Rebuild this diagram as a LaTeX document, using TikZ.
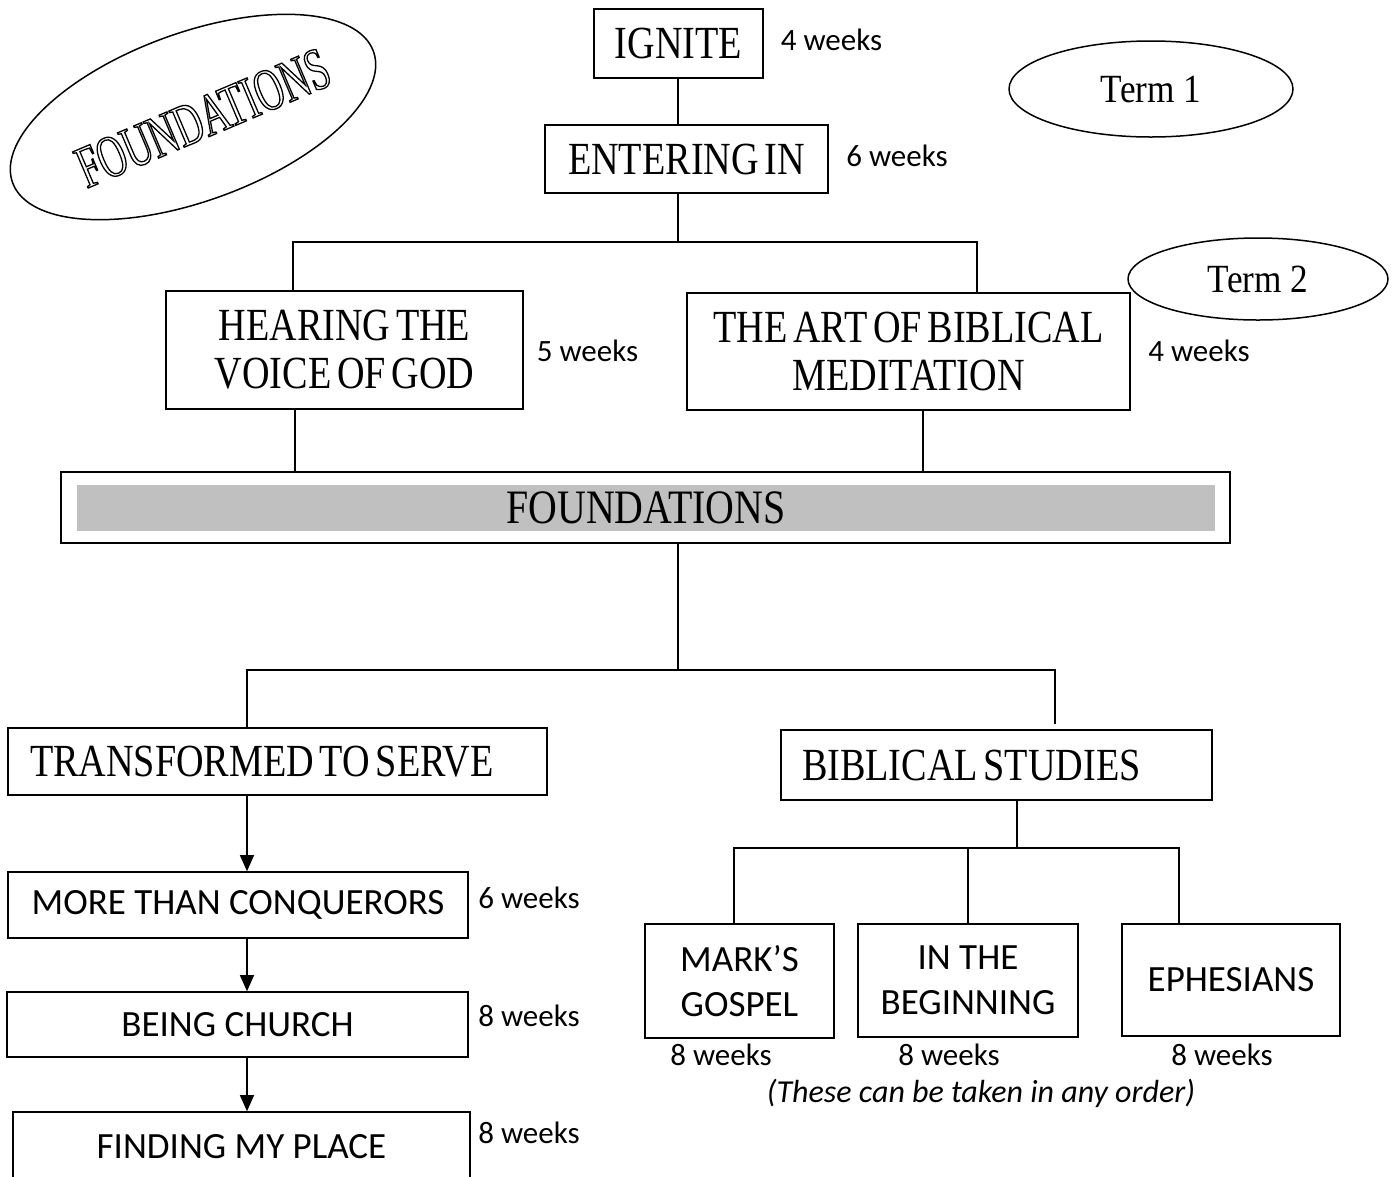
\documentclass[tikz,border=0pt]{standalone}
\usepackage{fontspec}
\setmainfont{Carlito}
\newfontfamily\tfont{Liberation Serif}[FakeStretch=0.83,WordSpace=0.6]
\newfontfamily\ovfont{Liberation Serif}[FakeStretch=0.64,WordSpace=0.5]
\newfontfamily\termfont{Liberation Serif}[FakeStretch=0.88]
\usetikzlibrary{shapes.geometric,arrows.meta}
\definecolor{barfill}{HTML}{C0C0C0}
\newcommand{\outlinetext}[1]{\special{pdf:literal direct 1 Tr 1.3 w}#1\special{pdf:literal direct 0 Tr}}
\tikzset{
  x=1pt,y=-1pt,
  box/.style={draw, line width=1.6pt, rectangle, inner sep=0pt, align=center},
  wk/.style={font=\fontsize{31}{34}\selectfont, inner sep=0pt},
  ttl/.style={font=\tfont\fontsize{46}{48}\selectfont},
  bdy/.style={font=\fontsize{37}{45}\selectfont},
  conn/.style={line width=1.4pt},
  arr/.style={line width=1.4pt, -{Triangle[length=16pt,width=14pt]}},
  oval/.style={draw, ellipse, line width=1.5pt, inner sep=0pt}
}
\begin{document}
\begin{tikzpicture}
\useasboundingbox (0,0) rectangle (1398,1176);
% ovals
\node[oval, rotate=20, minimum width=384, minimum height=168] (fov) at (193,117) {};
\node[rotate=23, inner sep=0pt, font=\ovfont\fontsize{60}{60}\selectfont] (fovtxt) at (203,118) {\outlinetext{FOUNDATIONS}};
\node[oval, minimum width=284, minimum height=96,
      font=\termfont\fontsize{40}{40}\selectfont] (t1) at (1151,89) {Term 1};
\node[oval, minimum width=260, minimum height=82,
      font=\termfont\fontsize{40}{40}\selectfont] (t2) at (1258,279) {Term 2};
% top boxes
\node[box, ttl, minimum width=169, minimum height=69] (ignite) at (678.5,43.5) {IGNITE};
\node[box, ttl, minimum width=283, minimum height=68] (enter) at (686.5,159) {ENTERING IN};
\node[box, ttl, minimum width=357, minimum height=118] (hear) at (344.5,350) {HEARING THE\\VOICE OF GOD};
\node[box, ttl, minimum width=443, minimum height=117] (art) at (908.5,351.5) {THE ART OF BIBLICAL\\MEDITATION};
% foundations bar
\node[box, minimum width=1169, minimum height=71] (found) at (645.5,507.5) {};
\node[fill=barfill, inner sep=0pt, minimum width=1138, minimum height=46, font=\tfont\fontsize{48}{48}\selectfont] (foundin) at (646,508) {FOUNDATIONS};
% lower left
\node[box, ttl, minimum width=539, minimum height=67] (trans) at (277.5,761.5) {\makebox[495pt][l]{TRANSFORMED TO SERVE}};
\node[box, bdy, minimum width=460, minimum height=66] (more) at (238,905) {MORE THAN CONQUERORS};
\node[box, bdy, minimum width=461, minimum height=65] (being) at (237.5,1024.5) {BEING CHURCH};
\node[box, bdy, minimum width=457, minimum height=70] (find) at (241.5,1147) {FINDING MY PLACE};
% lower right
\node[box, ttl, minimum width=431, minimum height=70] (bs) at (996.5,765) {\makebox[389pt][l]{BIBLICAL STUDIES}};
\node[box, bdy, minimum width=189, minimum height=114] (mark) at (739.5,981) {MARK’S\\GOSPEL};
\node[box, bdy, minimum width=220, minimum height=113] (inthe) at (968,980.5) {IN THE\\BEGINNING};
\node[box, bdy, minimum width=218, minimum height=112] (eph) at (1231,980) {EPHESIANS};
% weeks labels
\node[wk] (w1) at (831.5,40) {4 weeks};
\node[wk] (w2) at (897,156) {6 weeks};
\node[wk] (w3) at (587.5,351) {5 weeks};
\node[wk] (w4) at (1199,351) {4 weeks};
\node[wk] (w5) at (529,898) {6 weeks};
\node[wk] (w6) at (529,1016) {8 weeks};
\node[wk] (w7) at (529,1133) {8 weeks};
\node[wk] (w8) at (721,1055) {8 weeks};
\node[wk] (w9) at (949,1055) {8 weeks};
\node[wk] (w10) at (1222,1055) {8 weeks};
\node[wk, font=\itshape\fontsize{32}{34}\selectfont] (note) at (981,1093) {(These can be taken in any order)};
% connector coordinates
\coordinate (jt) at (678,242);
\coordinate (jtl) at (293,242);
\coordinate (jtr) at (977,242);
\coordinate (xh) at (295,0);
\coordinate (xa) at (923,0);
\coordinate (jm) at (678,670);
\coordinate (jml) at (247,670);
\coordinate (jmr) at (1055,670);
\coordinate (jb) at (1017,848);
\coordinate (jbl) at (734,848);
\coordinate (jbm) at (968,848);
\coordinate (jbr) at (1179,848);
% connectors
\draw[conn] (ignite.south -| jt) -- (enter.north -| jt);
\draw[conn] (enter.south -| jt) -- (jt);
\draw[conn] (hear.north -| jtl) -- (jtl) -- (jtr) -- (art.north -| jtr);
\draw[conn] (hear.south -| xh) -- (found.north -| xh);
\draw[conn] (art.south -| xa) -- (found.north -| xa);
\draw[conn] (found.south -| jm) -- (jm);
\draw[conn] (trans.north -| jml) -- (jml) -- (jmr) -- ([yshift=5pt]bs.north -| jmr);
\draw[arr] (trans.south -| jml) -- (more.north -| jml);
\draw[arr] (more.south -| jml) -- (being.north -| jml);
\draw[arr] (being.south -| jml) -- (find.north -| jml);
\draw[conn] (bs.south -| jb) -- (jb);
\draw[conn] (mark.north -| jbl) -- (jbl) -- (jbr) -- (eph.north -| jbr);
\draw[conn] (jbm) -- (inthe.north -| jbm);
\end{tikzpicture}
\end{document}
